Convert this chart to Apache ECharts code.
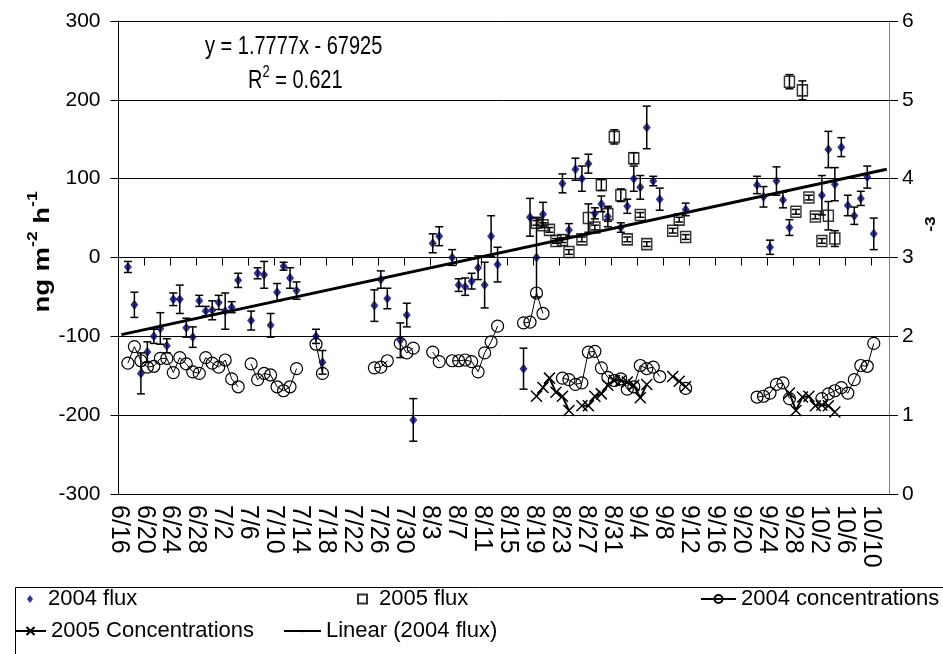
<!DOCTYPE html>
<html>
<head>
<meta charset="utf-8">
<script src="https://cdn.jsdelivr.net/npm/echarts@6/dist/echarts.min.js"></script>
<style>
	html, body { margin: 0; padding: 0; background: #fff; }
	#fluxChart { width: 943px; height: 654px; }
</style>
</head>
<body>
<div id="fluxChart"></div>
<script>
	// x tick labels, every 4 days starting 6/16
	var tickLabels = ['6/16','6/20','6/24','6/28','7/2','7/6','7/10','7/14','7/18','7/22','7/26','7/30',
		'8/3','8/7','8/11','8/15','8/19','8/23','8/27','8/31','9/4','9/8','9/12','9/16','9/20','9/24',
		'9/28','10/2','10/6','10/10'];

	// 2004 flux, ng m-2 h-1 (+/- error)
	var flux2004Dates = ['6/17','6/18','6/19','6/20','6/21','6/22','6/23','6/24','6/25','6/26','6/27','6/28','6/29','6/30',
		'7/1','7/2','7/3','7/4','7/6','7/7','7/8','7/9','7/10','7/11','7/12','7/13','7/16','7/17','7/25','7/26','7/27','7/29','7/30','7/31',
		'8/3','8/4','8/6','8/7','8/8','8/9','8/10','8/11','8/12','8/13','8/17','8/18','8/19','8/20','8/23','8/24','8/25','8/26','8/27','8/28','8/29','8/30',
		'9/1','9/2','9/3','9/4','9/5','9/6','9/7','9/11','9/22','9/23','9/24','9/25','9/26','9/27',
		'10/2','10/3','10/4','10/5','10/6','10/7','10/8','10/9','10/10'];
	var flux2004 = [-12,-60,-147,-120,-100,-90,-112,-53,-53,-89,-101,-55,-68,-67,
		-57,-68,-63,-29,-80,-20,-22,-86,-44,-11,-26,-42,-100,-133,-61,-28,-52,-105,-73,-206,
		18,27,0,-35,-37,-30,-13,-35,27,-9,-141,51,0,55,94,35,112,100,119,56,68,52,
		38,65,100,89,165,97,74,61,92,77,13,97,73,38,
		79,137,93,140,66,53,75,102,30];
	var flux2004Err = [7,16,26,13,9,20,9,8,18,12,13,7,6,12,
		9,23,7,9,12,7,17,15,11,5,13,11,9,15,20,11,13,22,15,27,
		12,12,10,8,11,10,15,29,26,22,26,24,50,15,12,8,14,16,12,7,10,13,
		6,9,16,15,27,6,14,8,11,13,9,18,10,10,
		25,23,21,12,13,11,9,14,20];

	// 2005 flux
	var flux2005Dates = ['8/19','8/20','8/21','8/22','8/23','8/24','8/26','8/27','8/28','8/29','8/30','8/31',
		'9/1','9/2','9/3','9/4','9/5','9/9','9/10','9/11','9/27','9/28','9/29','9/30','10/1','10/2','10/3','10/4'];
	var flux2005 = [44,41,35,21,22,7,23,50,38,92,55,153,79,23,126,54,17,34,48,26,223,58,212,76,52,21,53,24];
	var flux2005Err = [3,3,3,3,3,3,3,18,3,7,9,9,8,3,7,3,3,3,3,3,9,3,12,3,3,3,18,10];

	// 2004 concentrations (right axis)
	var conc2004Dates = ['6/17','6/18','6/19','6/20','6/21','6/22','6/23','6/24','6/25','6/26','6/27','6/28','6/29','6/30',
		'7/1','7/2','7/3','7/4','7/6','7/7','7/8','7/9','7/10','7/11','7/12','7/13','7/16','7/17','7/25','7/26','7/27','7/29','7/30','7/31',
		'8/3','8/4','8/6','8/7','8/8','8/9','8/10','8/11','8/12','8/13','8/17','8/18','8/19','8/20',
		'8/23','8/24','8/25','8/26','8/27','8/28','8/29','8/30','8/31','9/1','9/2','9/3','9/4','9/5','9/6','9/7','9/11',
		'9/22','9/23','9/24','9/25','9/26','9/27','10/2','10/3','10/4','10/5','10/6','10/7','10/8','10/9','10/10'];
	var conc2004 = [1.66,1.87,1.69,1.61,1.62,1.72,1.72,1.54,1.73,1.65,1.55,1.53,1.73,1.66,
		1.61,1.70,1.46,1.36,1.65,1.45,1.53,1.51,1.36,1.31,1.36,1.59,1.90,1.53,1.60,1.61,1.69,1.91,1.79,1.85,
		1.80,1.68,1.69,1.69,1.70,1.68,1.55,1.79,1.93,2.13,2.17,2.18,2.55,2.29,
		1.47,1.45,1.39,1.41,1.80,1.81,1.60,1.48,1.44,1.46,1.33,1.36,1.63,1.59,1.61,1.49,1.34,
		1.23,1.24,1.28,1.39,1.41,1.21,1.21,1.27,1.31,1.35,1.28,1.45,1.63,1.62,1.91];

	// 2005 concentrations (right axis)
	var conc2005Dates = ['8/19','8/20','8/21','8/22','8/23','8/24','8/26','8/27','8/28','8/29','8/30','8/31',
		'9/1','9/2','9/3','9/4','9/5','9/9','9/10','9/11','9/27','9/28','9/29','9/30','10/1','10/2','10/3','10/4'];
	var conc2005 = [1.24,1.35,1.47,1.29,1.24,1.06,1.12,1.12,1.24,1.27,1.38,1.44,
		1.44,1.42,1.38,1.22,1.39,1.49,1.43,1.36,1.28,1.06,1.23,1.24,1.12,1.13,1.12,1.04];

	// Excel trendline on the 2004 flux (x = date serial)
	var trendSlope = 1.7777;
	var trendIntercept = -67925;
	var trendFrom = '6/16', trendTo = '10/12';

	var SERIAL_6_16 = 38154;  // Excel serial of 2004-06-16
	var NOON = 0.45;          // samples sit mid-day
	var monthOffset = { 6: -16, 7: 14, 8: 45, 9: 76, 10: 106 };

	function dayOf(md) {
		var p = md.split('/');
		return monthOffset[+p[0]] + (+p[1]);
	}
	function points(dates, vals) {
		return dates.map(function (d, i) { return [dayOf(d) + NOON, vals[i]]; });
	}
	// break the line wherever a day is missing (blank rows in the sheet)
	function gapped(dates, vals) {
		var out = [];
		dates.forEach(function (d, i) {
			if (i > 0 && dayOf(d) - dayOf(dates[i - 1]) > 1) out.push([dayOf(d) - 0.5, null]);
			out.push([dayOf(d) + NOON, vals[i]]);
		});
		return out;
	}
	function bars(dates, vals, errs) {
		return dates.map(function (d, i) { return [dayOf(d) + NOON, vals[i] - errs[i], vals[i] + errs[i]]; });
	}
	function trendAt(day) { return trendSlope * (SERIAL_6_16 + day) + trendIntercept; }

	function renderErr(params, api) {
		var hi = api.coord([api.value(0), api.value(2)]);
		var lo = api.coord([api.value(0), api.value(1)]);
		var st = { stroke: '#000', lineWidth: 1.5 };
		return {
			type: 'group',
			children: [
				{ type: 'line', shape: { x1: hi[0], y1: hi[1], x2: lo[0], y2: lo[1] }, style: st },
				{ type: 'line', shape: { x1: hi[0] - 4, y1: hi[1], x2: hi[0] + 4, y2: hi[1] }, style: st },
				{ type: 'line', shape: { x1: lo[0] - 4, y1: lo[1], x2: lo[0] + 4, y2: lo[1] }, style: st }
			]
		};
	}

	// the original picture is stretched vertically, so free text gets a scale
	var FONT = 'Liberation Sans, Arial, sans-serif';
	var STRETCH = 1.25;
	var crossSymbol = 'path://M0,0L10,10M10,0L0,10';

	var t0 = dayOf(trendFrom) + NOON, t1 = dayOf(trendTo) + NOON;

	function legendItem(name, left, top, w, h, pad) {
		return {
			data: [name], left: left, top: top, padding: 0, itemGap: 0,
			itemWidth: w, itemHeight: h, selectedMode: false,
			textStyle: { fontFamily: FONT, fontSize: 22, color: '#000', padding: [0, 0, 0, pad] }
		};
	}

	var option = {
		animation: false,
		backgroundColor: '#fff',
		grid: { left: 118.5, right: 54, top: 21, bottom: 160, containLabel: false },
		xAxis: {
			type: 'value', min: 0, max: 118.8, interval: 4,
			axisLine: { lineStyle: { color: '#000', width: 1 } },
			axisTick: { show: true, length: 8, lineStyle: { color: '#000' } },
			splitLine: { show: false },
			axisLabel: {
				rotate: -90, margin: 11, color: '#000', fontFamily: FONT, fontSize: 25,
				showMaxLabel: false,
				formatter: function (v) {
					var k = Math.round(v / 4);
					return Math.abs(v - k * 4) < 1e-6 && tickLabels[k] ? tickLabels[k] : '';
				}
			}
		},
		yAxis: [{
			type: 'value', min: -300, max: 300, interval: 100,
			axisLine: { show: true, lineStyle: { color: '#000' } },
			axisTick: { show: true, length: 8, lineStyle: { color: '#000' } },
			splitLine: { show: true, lineStyle: { color: '#000', width: 1 } },
			axisLabel: { color: '#000', fontFamily: FONT, fontSize: 21, margin: 18 }
		}, {
			type: 'value', min: 0, max: 6, interval: 1, position: 'right',
			axisLine: { show: true, lineStyle: { color: '#808080' } },
			axisTick: { show: true, length: 9, lineStyle: { color: '#000' } },
			splitLine: { show: false },
			axisLabel: { color: '#000', fontFamily: FONT, fontSize: 21, margin: 13 }
		}],
		legend: [
			legendItem('2004 flux', 27, 588, 6, 8, 10),
			legendItem('2005 flux', 357, 588, 9, 9, 7),
			legendItem('2004 concentrations', 700, 588, 35, 10, 0),
			legendItem('2005 Concentrations', 14, 620, 31, 10, 0),
			legendItem('Linear (2004 flux)', 283, 620, 37, 3, 0)
		],
		graphic: [
			{ type: 'rect', left: 13, top: 585, shape: { width: 960, height: 120 },
				style: { fill: 'none', stroke: '#000', lineWidth: 1 } },
			{ type: 'text', x: 40, y: 252, rotation: Math.PI / 2, scaleX: STRETCH,
				style: {
					text: '{b|ng m}{s|-2}{b| h}{s|-1}', align: 'center', verticalAlign: 'middle',
					rich: {
						b: { fontFamily: FONT, fontSize: 22, fontWeight: 'bold', fill: '#000', lineHeight: 28, verticalAlign: 'bottom' },
						s: { fontFamily: FONT, fontSize: 14, fontWeight: 'bold', fill: '#000', lineHeight: 28, verticalAlign: 'top' }
					}
				} },
			{ type: 'text', x: 931, y: 224, rotation: Math.PI / 2, scaleX: STRETCH,
				style: { text: '-3', align: 'center', verticalAlign: 'middle',
					font: 'bold 14px ' + FONT, fill: '#000' } },
			{ type: 'text', x: 205, y: 47, scaleY: STRETCH,
				style: { text: 'y = 1.7777x - 67925', verticalAlign: 'middle',
					font: '20px ' + FONT, fill: '#000' } },
			{ type: 'text', x: 248, y: 79, scaleY: STRETCH,
				style: {
					text: '{t|R}{s|2}{t| = 0.621}', verticalAlign: 'middle',
					rich: {
						t: { fontFamily: FONT, fontSize: 20, fill: '#000', lineHeight: 24, verticalAlign: 'bottom' },
						s: { fontFamily: FONT, fontSize: 13, fill: '#000', lineHeight: 24, verticalAlign: 'top' }
					}
				} }
		],
		series: [
			{
				name: '2004 concentrations', type: 'line', yAxisIndex: 1,
				data: gapped(conc2004Dates, conc2004),
				symbol: 'circle', symbolSize: 12, showAllSymbol: true, connectNulls: false,
				itemStyle: { color: 'transparent', borderColor: '#000', borderWidth: 1.2 },
				lineStyle: { color: '#000', width: 1 },
				z: 2
			},
			{
				name: '2005 Concentrations', type: 'line', yAxisIndex: 1,
				data: gapped(conc2005Dates, conc2005),
				symbol: crossSymbol, symbolSize: 11, showAllSymbol: true, connectNulls: false,
				itemStyle: { color: 'transparent', borderColor: '#000', borderWidth: 1.5 },
				lineStyle: { color: '#000', width: 2 },
				z: 2
			},
			{
				name: '2005 flux', type: 'scatter',
				data: points(flux2005Dates, flux2005),
				symbol: 'rect', symbolSize: [10, 11],
				itemStyle: { color: 'transparent', borderColor: '#000', borderWidth: 1.5 },
				z: 3
			},
			{
				name: '2004 flux', type: 'scatter',
				data: points(flux2004Dates, flux2004),
				symbol: 'diamond', symbolSize: [8, 10],
				itemStyle: { color: '#000080' },
				z: 3
			},
			{
				name: 'err2005', type: 'custom', renderItem: renderErr,
				data: bars(flux2005Dates, flux2005, flux2005Err),
				encode: { x: 0, y: [1, 2] }, z: 4, silent: true
			},
			{
				name: 'err2004', type: 'custom', renderItem: renderErr,
				data: bars(flux2004Dates, flux2004, flux2004Err),
				encode: { x: 0, y: [1, 2] }, z: 4, silent: true
			},
			{
				name: 'Linear (2004 flux)', type: 'line',
				data: [[t0, trendAt(t0)], [t1, trendAt(t1)]],
				symbol: 'none', legendIcon: 'rect',
				lineStyle: { color: '#000', width: 3 },
				itemStyle: { color: '#000' },
				z: 5
			}
		]
	};

	var fluxChart = echarts.init(document.getElementById('fluxChart'));
	fluxChart.setOption(option);
</script>
</body>
</html>
